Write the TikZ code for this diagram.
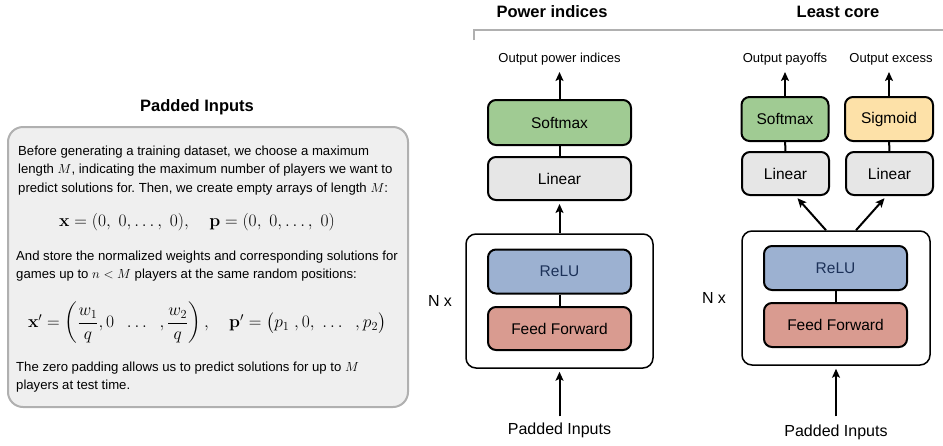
\RequirePackage{fix-cm}
\documentclass[tikz,border=0pt]{standalone}
\usepackage[no-math]{fontspec}
\setmainfont{Liberation Sans}
\usepackage{amsmath}
\usetikzlibrary{arrows.meta,calc}
\definecolor{smgreen}{HTML}{A0CB93}
\definecolor{lingray}{HTML}{E6E6E6}
\definecolor{relublue}{HTML}{9CB1D1}
\definecolor{ffred}{HTML}{D99B90}
\definecolor{sigorange}{HTML}{FDE1A8}
\definecolor{panelfill}{HTML}{EFEFEF}
\definecolor{panelborder}{HTML}{B0B0B0}
\definecolor{relutext}{HTML}{1C3158}
\tikzset{
  layer/.style={draw=black, line width=2pt, rounded corners=8pt, minimum width=143pt, minimum height=43pt, inner sep=0pt, font=\fontsize{15.5}{18}\selectfont},
  smallayer/.style={layer, minimum width=87pt},
  outerbox/.style={draw=black, line width=1.5pt, rounded corners=10pt, fill=white, inner sep=0pt},
  lbl/.style={font=\fontsize{13}{15}\selectfont, inner sep=0pt},
  inlbl/.style={font=\fontsize{16}{18}\selectfont, inner sep=0pt},
  heading/.style={font=\fontsize{16.5}{19}\selectfont\bfseries, inner sep=0pt},
  ptext/.style={anchor=west, font=\fontsize{13.15}{15}\selectfont, inner sep=0pt, text height=9.5pt, text depth=3pt},
  eqtext/.style={inner sep=0pt, font=\fontsize{17.5}{20}\selectfont},
  arr/.style={-{Stealth[length=9pt,width=8pt,inset=2pt]}, line width=2pt},
  link/.style={line width=2pt}
}
\begin{document}
\frenchspacing
\begin{tikzpicture}[x=1pt,y=-1pt]
\useasboundingbox (0,0) rectangle (943,445);

% ---------- left panel ----------
\node[heading] (ptitle) at (197,107) {Padded Inputs};
\node[draw=panelborder, fill=panelfill, line width=2pt, rounded corners=15pt, minimum width=400pt, minimum height=280pt, inner sep=0pt] (panel) at (208,267) {};
\node[ptext] (t1) at (18,152) {Before generating a training dataset, we choose a maximum};
\node[ptext] (t2) at (18,170.5) {length $M$, indicating the maximum number of players we want to};
\node[ptext] (t3) at (18,189) {predict solutions for. Then, we create empty arrays of length $M$:};
\node[eqtext] (eq1) at (197,222) {$\mathbf{x} = (0,\ 0,\ldots,\ 0),\quad \mathbf{p} = (0,\ 0,\ldots,\ 0)$};
\node[ptext] (t4) at (16,257) {And store the normalized weights and corresponding solutions for};
\node[ptext] (t5) at (16,275.5) {games up to $n < M$ players at the same random positions:};
\node[eqtext] (eq2) at (207,323) {$\mathbf{x}' = \left(\dfrac{w_1}{q}, 0\ \ \ldots\ \ , \dfrac{w_2}{q}\right),\quad \mathbf{p}' = \bigl(p_1\ , 0,\ \ldots\ \ , p_2\bigr)$};
\node[ptext] (t6) at (16,368) {The zero padding allows us to predict solutions for up to $M$};
\node[ptext] (t7) at (16,386) {players at test time.};

% ---------- headings ----------
\node[heading] (h1) at (552,12) {Power indices};
\node[heading] (h2) at (838,12) {Least core};
\coordinate (brA) at (474,40);
\coordinate (brB) at (474,30);
\coordinate (brC) at (943,30);
\draw[panelborder, line width=1.3pt] (brA) -- (brB) -- (brC);

% ---------- power indices model ----------
\node[outerbox, minimum width=187pt, minimum height=134pt] (outer1) at (559.5,301) {};
\node[layer, fill=smgreen, minimum height=45pt] (sm1) at (559.5,122.5) {Softmax};
\node[layer, fill=lingray] (lin1) at (559.5,178.5) {Linear};
\node[layer, fill=relublue, minimum height=44pt, text=relutext] (relu1) at (559.5,271.5) {ReLU};
\node[layer, fill=ffred] (ff1) at (559.5,328.5) {Feed Forward};
\node[inlbl] (nx1) at (440,301) {N x};
\node[lbl] (out1) at (559.5,59) {Output power indices};
\node[inlbl] (in1) at (559.5,430) {Padded Inputs};
\draw[link] (sm1) -- (lin1);
\draw[link] (relu1) -- (ff1);
\draw[arr] (sm1.north) -- ++(0,-27);
\draw[arr, shorten >=3pt] (outer1.north) -- (lin1.south);
\draw[arr, shorten <=6pt, shorten >=3pt] (in1.north) -- (outer1.south);

% ---------- least core model ----------
\node[outerbox, minimum width=188pt, minimum height=134pt] (outer2) at (836,298) {};
\node[smallayer, fill=smgreen, minimum height=44pt] (sm2) at (785,119) {Softmax};
\node[smallayer, fill=sigorange, minimum height=44pt, minimum width=88pt] (sig) at (889,119) {Sigmoid};
\node[smallayer, fill=lingray] (lin2) at (785.5,173.5) {Linear};
\node[smallayer, fill=lingray] (lin3) at (889.5,173.5) {Linear};
\node[layer, fill=relublue, minimum height=44pt, text=relutext] (relu2) at (835.5,268) {ReLU};
\node[layer, fill=ffred, minimum height=44pt] (ff2) at (835.5,325) {Feed Forward};
\node[inlbl] (nx2) at (714,298) {N x};
\node[lbl] (out2) at (785,59) {Output payoffs};
\node[lbl] (out3) at (891,59) {Output excess};
\node[inlbl] (in2) at (836,432) {Padded Inputs};
\draw[link] (sm2) -- (lin2);
\draw[link] (sig) -- (lin3);
\draw[link] (relu2) -- (ff2);
\draw[arr] (sm2.north) -- ++(0,-24);
\draw[arr] (sig.north) -- ++(0,-24);
\draw[arr, shorten >=3pt] ($(outer2.north)+(-10,0)$) -- ($(lin2.south)+(10,0)$);
\draw[arr, shorten >=3pt] ($(outer2.north)+(20,0)$) -- ($(lin3.south)+(-3,0)$);
\draw[arr, shorten <=8pt, shorten >=3pt] (in2.north) -- (outer2.south);
\end{tikzpicture}
\end{document}
